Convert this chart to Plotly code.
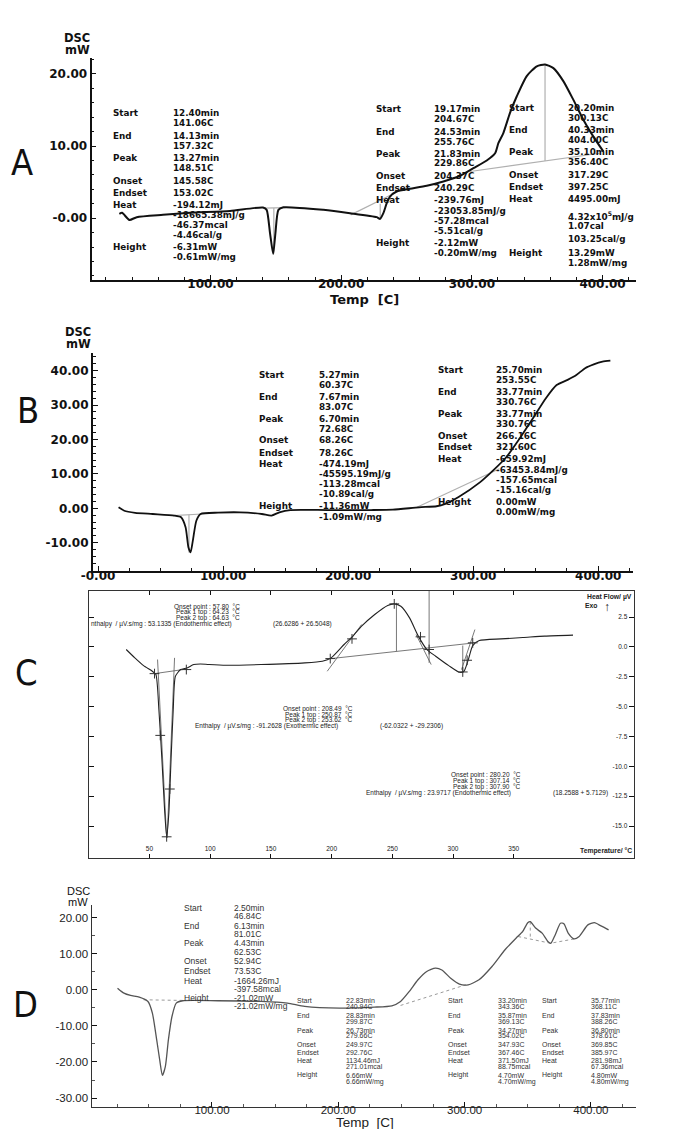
import plotly.graph_objects as go

W, H = 683, 1129

# ---------------- DATA ----------------
# Panel A (temp C, DSC mW)
a_temp = [30.3, 32.4, 38.0, 43.6, 63.7, 84.4, 115.0, 140.2, 143.0, 145.6, 148.0, 149.7, 152.0, 155.8,
          186.4, 206.8, 227.2, 229.8, 232.3, 234.9, 237.4, 242.5, 252.7, 265.5, 278.2, 291.0, 301.2,
          311.4, 317.8, 320.3, 324.1, 329.2, 334.4, 342.0, 349.7, 356.0, 362.4, 370.0, 377.7, 385.3,
          393.0, 400.6]
a_dsc = [0.6, 0.74, -0.24, 0.14, 0.46, 0.74, 1.0, 1.47, 1.15, -2.1, -4.96, -2.1, 1.15, 1.5,
         1.15, 0.69, 0.14, -0.1, 0.69, 2.08, 3.0, 3.7, 4.07, 4.49, 5.08, 5.88, 6.94,
         8.0, 9.0, 10.4, 11.8, 14.6, 16.9, 19.7, 21.05, 21.3, 20.8, 19.0, 16.4, 13.65,
         11.3, 9.25]
a_base_t = [141.0, 157.3, None, 148.5, 148.5, None, 207.3, 240.7, None, 229.9, 229.9, None,
            298.7, 398.0, None, 356.0, 356.0]
a_base_v = [1.4, 1.45, None, 1.4, -4.9, None, 0.46, 3.46, None, 2.0, -0.05, None,
            6.47, 9.0, None, 21.3, 7.93]

# Panel B
b_temp = [16.4, 21.0, 29.7, 43.7, 61.0, 66.4, 70.0, 72.3, 74.0, 75.8, 78.6, 82.0, 96.0, 113.5,
          131.0, 138.7, 145.0, 153.7, 183.4, 218.3, 235.8, 256.7, 270.7, 277.7, 288.0, 305.6,
          316.0, 326.6, 337.0, 347.5, 358.0, 366.7, 375.5, 382.5, 389.5, 396.4, 403.4, 409.7]
b_dsc = [0.3, -0.7, -1.3, -1.65, -2.1, -2.6, -5.5, -11.4, -12.8, -9.4, -3.6, -1.65, -1.26, -1.17,
         -1.65, -2.1, -1.17, -0.5, -0.5, -0.5, -0.4, 0.3, 0.6, 1.3, 3.2, 7.6,
         11.0, 14.9, 20.2, 26.0, 31.9, 35.8, 37.3, 38.7, 40.7, 41.8, 42.6, 42.9]
b_base_t = [60.0, 83.0, None, 72.7, 72.7, None, 255.0, 321.0]
b_base_v = [-2.1, -1.65, None, -1.9, -12.8, None, 0.3, 11.5]

# Panel C
c_temp = [30.9, 38.0, 45.2, 52.4, 55.3, 57.8, 60.3, 62.5, 64.2, 66.0, 67.8, 69.6, 71.4, 75.7, 81.0,
          86.5, 91.9, 99.0, 113.4, 142.0, 178.0, 192.4, 199.6, 210.3, 217.5, 224.7, 235.5, 246.2,
          251.6, 257.0, 264.2, 271.4, 278.5, 285.7, 296.5, 305.5, 309.0, 312.6, 316.2, 321.6,
          339.5, 357.5, 375.4, 398.8]
c_hf = [-0.22, -0.92, -1.57, -2.04, -2.3, -5.26, -9.45, -13.65, -15.9, -13.9, -9.45, -5.26, -2.46, -1.9, -1.76,
        -1.48, -1.43, -1.48, -1.54, -1.48, -1.34, -1.2, -0.92, 0.2, 0.9, 1.73, 2.71, 3.47,
        3.6, 3.4, 2.43, 0.9, -0.22, -0.78, -1.57, -2.13, -2.04, -1.06, 0.11, 0.53,
        0.67, 0.78, 0.9, 0.98]
c_base_t = [54.2, 81.0, None, 56.7, 64.2, None, 70.7, 64.6, None, 197.8, 318.0, None,
            196.4, 224.7, None, 269.6, 282.0, None, 307.0, 318.0, None,
            253.4, 253.4, None, 280.3, 280.3, None, 308.0, 308.0]
c_base_v = [-2.24, -1.85, None, -1.06, -16.0, None, -0.92, -16.0, None, -1.0, 0.34, None,
            -2.04, 1.87, None, 1.03, -1.48, None, -1.9, 1.45, None,
            3.69, -0.36, None, 4.72, -1.34, None, 0.11, -2.18]
c_mark_t = [54.2, 58.9, 66.8, 64.2, 80.4, 198.9, 216.8, 251.6, 273.2, 280.3, 308.0, 311.6, 316.2]
c_mark_v = [-2.24, -7.41, -11.9, -15.9, -1.9, -0.98, 0.67, 3.6, 0.84, -0.22, -2.1, -1.12, 0.34]

# Panel D
d_temp = [25.2, 30.3, 35.5, 42.4, 49.3, 52.8, 56.2, 58.6, 60.7, 63.1, 65.5, 68.3, 71.7, 76.9, 104.5,
          139.0, 159.7, 173.4, 201.0, 228.6, 242.4, 249.3, 256.2, 263.1, 270.0, 276.9, 282.0, 289.0,
          295.9, 302.8, 311.4, 321.7, 332.0, 340.7, 345.9, 350.0, 352.0, 356.2, 361.4, 365.9, 368.3,
          371.7, 375.9, 378.6, 382.0, 386.6, 390.7, 397.6, 402.8, 408.0, 414.0]
d_dsc = [0.46, -0.92, -1.57, -2.03, -3.23, -6.46, -13.8, -19.4, -23.7, -21.2, -13.8, -7.4, -3.7, -3.04, -3.04,
         -3.23, -3.7, -4.6, -5.07, -4.8, -4.43, -3.23, -0.46, 2.77, 5.07, 6.0, 5.5, 3.2,
         1.57, 1.38, 2.77, 6.46, 11.1, 14.3, 16.1, 18.6, 18.9, 17.1, 15.7, 13.4, 12.9,
         15.2, 18.45, 18.3, 15.7, 14.1, 14.8, 18.0, 18.6, 17.7, 16.6]
d_base_t = [45.9, 76.9, None, 249.3, 301.0, None, 342.4, 368.0, 387.0, None, 352.0, 352.0]
d_base_v = [-2.77, -2.95, None, -4.34, 1.38, None, 14.76, 12.9, 14.1, None, 18.9, 14.3]

# Tick labels
a_xticks = [100, 200, 300, 400]
a_xtext = ["100.00", "200.00", "300.00", "400.00"]
a_yticks = [0, 10, 20]
a_ytext = ["-0.00", "10.00", "20.00"]
b_xticks = [0, 100, 200, 300, 400]
b_xtext = ["-0.00", "100.00", "200.00", "300.00", "400.00"]
b_yticks = [-10, 0, 10, 20, 30, 40]
b_ytext = ["-10.00", "0.00", "10.00", "20.00", "30.00", "40.00"]
c_xticks = [50, 100, 150, 200, 250, 300, 350]
c_yticks = [2.5, 0.0, -2.5, -5.0, -7.5, -10.0, -12.5, -15.0]
d_xticks = [100, 200, 300, 400]
d_xtext = ["100.00", "200.00", "300.00", "400.00"]
d_yticks = [-30, -20, -10, 0, 10, 20]
d_ytext = ["-30.00", "-20.00", "-10.00", "0.00", "10.00", "20.00"]

# Annotation texts
a1_labels = ["Start", "End", "Peak", "Onset", "Endset", "Heat", "Height"]
a1_values = ["12.40min", "141.06C", "14.13min", "157.32C", "13.27min", "148.51C", "145.58C", "153.02C",
             "-194.12mJ", "-18665.38mJ/g", "-46.37mcal", "-4.46cal/g", "-6.31mW", "-0.61mW/mg"]
a2_labels = ["Start", "End", "Peak", "Onset", "Endset", "Heat", "Height"]
a2_values = ["19.17min", "204.67C", "24.53min", "255.76C", "21.83min", "229.86C", "204.37C", "240.29C",
             "-239.76mJ", "-23053.85mJ/g", "-57.28mcal", "-5.51cal/g", "-2.12mW", "-0.20mW/mg"]
a3_labels = ["Start", "End", "Peak", "Onset", "Endset", "Heat", "Height"]
a3_values = ["20.20min", "300.13C", "40.33min", "404.00C", "35.10min", "356.40C", "317.29C", "397.25C",
             "4495.00mJ", "4.32x10<sup>5</sup>mJ/g", "1.07cal", "103.25cal/g", "13.29mW", "1.28mW/mg"]
b1_labels = ["Start", "End", "Peak", "Onset", "Endset", "Heat", "Height"]
b1_values = ["5.27min", "60.37C", "7.67min", "83.07C", "6.70min", "72.68C", "68.26C", "78.26C",
             "-474.19mJ", "-45595.19mJ/g", "-113.28mcal", "-10.89cal/g", "-11.36mW", "-1.09mW/mg"]
b2_labels = ["Start", "End", "Peak", "Onset", "Endset", "Heat", "Height"]
b2_values = ["25.70min", "253.55C", "33.77min", "330.76C", "33.77min", "330.76C", "266.16C", "321.60C",
             "-659.92mJ", "-63453.84mJ/g", "-157.65mcal", "-15.16cal/g", "0.00mW", "0.00mW/mg"]
c1_lines = ["Onset point : 57.80  °C", "Peak 1 top : 64.23  °C", "Peak 2 top : 64.63  °C",
            "nthalpy  / µV.s/mg : 53.1335 (Endothermic effect)", "(26.6286 + 26.5048)"]
c2_lines = ["Onset point : 208.49  °C", "Peak 1 top : 250.87  °C", "Peak 2 top : 253.62  °C",
            "Enthalpy  / µV.s/mg : -91.2628 (Exothermic effect)", "(-62.0322 + -29.2306)"]
c3_lines = ["Onset point : 280.20  °C", "Peak 1 top : 307.14  °C", "Peak 2 top : 307.90  °C",
            "Enthalpy  / µV.s/mg : 23.9717 (Endothermic effect)", "(18.2588 + 5.7129)"]
d1_labels = ["Start", "End", "Peak", "Onset", "Endset", "Heat", "Height"]
d1_values = ["2.50min", "46.84C", "6.13min", "81.01C", "4.43min", "62.53C", "52.94C", "73.53C",
             "-1664.26mJ", "-397.58mcal", "-21.02mW", "-21.02mW/mg"]
d2_values = ["22.83min", "240.94C", "28.83min", "299.87C", "26.73min", "279.66C", "249.97C", "292.76C",
             "1134.46mJ", "271.01mcal", "6.66mW", "6.66mW/mg"]
d3_values = ["33.20min", "343.36C", "35.87min", "369.13C", "34.27min", "354.02C", "347.93C", "367.46C",
             "371.50mJ", "88.75mcal", "4.70mW", "4.70mW/mg"]
d4_values = ["35.77min", "368.11C", "37.83min", "388.26C", "36.80min", "378.61C", "369.85C", "385.97C",
             "281.98mJ", "67.36mcal", "4.80mW", "4.80mW/mg"]
panel_letters = ["A", "B", "C", "D"]

# ---------------- LAYOUT HELPERS ----------------
def fx(px):
    return px / W

def fy(py):
    return 1 - py / H

BOLD = "DejaVu Sans"
REG = "Liberation Sans, Arial, sans-serif"
ann = []

def txt(px, py, s, size, family=BOLD, bold=True, color="#111", xanchor="left", yanchor="middle"):
    ann.append(dict(x=fx(px), y=fy(py), xref="paper", yref="paper", text=s, showarrow=False,
                    xanchor=xanchor, yanchor=yanchor, borderpad=0,
                    font=dict(size=size, family=family, color=color,
                              weight="bold" if bold else "normal")))

fig = go.Figure()

def line(xs, ys, xa, ya, color, width, dash="solid", shape="spline"):
    ln = dict(color=color, width=width, dash=dash, shape=shape)
    if shape == "spline":
        ln["smoothing"] = 0.6
    fig.add_trace(go.Scatter(x=xs, y=ys, xaxis=xa, yaxis=ya, mode="lines", line=ln,
                             connectgaps=False, hoverinfo="skip", showlegend=False))

# Panel A
line(a_base_t, a_base_v, "x", "y", "#b0b0b0", 1.2, shape="linear")
line(a_temp, a_dsc, "x", "y", "#111", 2.0)
# Panel B
line(b_base_t, b_base_v, "x2", "y2", "#b0b0b0", 1.2, shape="linear")
line(b_temp, b_dsc, "x2", "y2", "#111", 1.8)
# Panel C
line(c_base_t, c_base_v, "x3", "y3", "#555", 0.8, shape="linear")
line(c_temp, c_hf, "x3", "y3", "#222", 1.1)
fig.add_trace(go.Scatter(x=c_mark_t, y=c_mark_v, xaxis="x3", yaxis="y3", mode="markers",
                         marker=dict(symbol="cross-thin", size=7, line=dict(width=1, color="#333")),
                         hoverinfo="skip", showlegend=False))
# Panel D
line(d_base_t, d_base_v, "x4", "y4", "#9a9a9a", 1.0, dash="dot", shape="linear")
line(d_temp, d_dsc, "x4", "y4", "#555", 1.3)

axis_common = dict(showgrid=False, zeroline=False, automargin=False, showline=True,
                   linecolor="#111", ticks="inside", tickcolor="#111")

bold_tick = dict(size=12, family=BOLD, color="#111", weight="bold")
reg_tick = dict(size=11.5, family=REG, color="#222")

fig.update_layout(
    width=W, height=H, margin=dict(l=0, r=0, t=0, b=0),
    paper_bgcolor="white", plot_bgcolor="rgba(0,0,0,0)", showlegend=False,
    xaxis=dict(axis_common, domain=[fx(91.5), fx(636)], range=[9, 425.6], anchor="y",
               tickvals=a_xticks, ticktext=a_xtext, ticklen=5, linewidth=1.8, tickwidth=1.2,
               ticklabelstandoff=-8,
               tickfont=bold_tick, minor=dict(dtick=20, tick0=0, ticklen=3, ticks="inside", tickcolor="#111")),
    yaxis=dict(axis_common, domain=[fy(280), fy(58)], range=[-8.57, 22.2], anchor="x",
               tickvals=a_yticks, ticktext=a_ytext, ticklen=5, linewidth=1.8, tickwidth=1.2,
               tickfont=bold_tick, minor=dict(dtick=2, tick0=0, ticklen=3, ticks="inside", tickcolor="#111")),
    xaxis2=dict(axis_common, domain=[fx(92.8), fx(633)], range=[-4.2, 427.8], anchor="y2",
                tickvals=b_xticks, ticktext=b_xtext, ticklen=5, linewidth=1.8, tickwidth=1.2,
                ticklabelstandoff=-7,
                tickfont=bold_tick, minor=dict(dtick=25, tick0=0, ticklen=3, ticks="inside", tickcolor="#111")),
    yaxis2=dict(axis_common, domain=[fy(571), fy(353)], range=[-18.2, 45.1], anchor="x2",
                tickvals=b_yticks, ticktext=b_ytext, ticklen=5, linewidth=1.8, tickwidth=1.2,
                tickfont=bold_tick, minor=dict(dtick=2, tick0=0, ticklen=3, ticks="inside", tickcolor="#111")),
    xaxis3=dict(axis_common, domain=[fx(89.3), fx(634)], range=[0.5, 449], anchor="y3",
                tickvals=c_xticks, ticktext=[str(v) for v in c_xticks], ticklen=4, linewidth=1,
                linecolor="#333", mirror="ticks", ticklabelposition="inside",
                tickfont=dict(size=6.5, family=REG, color="#222")),
    yaxis3=dict(axis_common, domain=[fy(857.7), fy(590.5)], range=[-17.65, 4.72], anchor="x3",
                side="right", tickvals=c_yticks, ticktext=["%.1f" % v for v in c_yticks],
                ticklen=5, linewidth=1, linecolor="#333", mirror="ticks", ticklabelposition="inside",
                tickfont=dict(size=6.5, family=REG, color="#222")),
    xaxis4=dict(axis_common, domain=[fx(91.5), fx(636)], range=[4.6, 435.7], anchor="y4",
                tickvals=d_xticks, ticktext=d_xtext, ticklen=5, linewidth=1.2, linecolor="#333",
                ticklabelstandoff=-8,
                tickfont=reg_tick, minor=dict(dtick=25, tick0=0, ticklen=3, ticks="inside", tickcolor="#555")),
    yaxis4=dict(axis_common, domain=[fy(1106.7), fy(905)], range=[-32.4, 23.5], anchor="x4",
                tickvals=d_yticks, ticktext=d_ytext, ticklen=5, linewidth=1.2, linecolor="#333",
                tickfont=reg_tick, minor=dict(dtick=5, tick0=0, ticklen=3, ticks="inside", tickcolor="#555")),
)

# ---- axis titles and panel letters
for (cx, y1, y2, bold) in [(77, 38, 49.5, True), (78, 332, 343.5, True), (78, 890.5, 901.5, False)]:
    fam = BOLD if bold else REG
    txt(cx, y1, "DSC", 11.5 if bold else 11, fam, bold, xanchor="center")
    txt(cx, y2, "mW", 11.5 if bold else 11, fam, bold, xanchor="center")
txt(364, 299, "Temp  [C]", 13, BOLD, True, xanchor="center")
txt(364.5, 1122, "Temp  [C]", 13.5, REG, False, color="#222", xanchor="center")

LETTER_FONT = "Liberation Sans Narrow, DejaVu Sans Condensed, Liberation Sans"
for s, (px, py) in zip(panel_letters, [(22, 163), (28, 410), (26, 672), (25, 1004)]):
    txt(px, py, s, 36, LETTER_FONT, False, color="#111", xanchor="center")

# ---- Panel A / B blocks
std_label_rows = [0, 2, 4, 6, 7, 8, 12]   # value index where each label sits

def block(labels, values, lx, vx, vys, size, family, bold, color):
    for lab, idx in zip(labels, std_label_rows):
        txt(lx, vys[idx], lab, size, family, bold, color)
    for v, yy in zip(values, vys):
        txt(vx, yy, v, size, family, bold, color)

a1_y = [113.3, 123.3, 136, 146, 158, 167.7, 180.7, 192.7, 204.7, 215, 225, 235.3, 247.3, 257.3]
a2_y = [109, 119, 131.7, 141.7, 153.7, 163.3, 176, 188.3, 200, 210.7, 220.7, 230.7, 242.7, 253.3]
a3_y = [107.7, 117.7, 130, 140, 152.3, 162, 174.7, 186.7, 199, 215.7, 225.7, 239.3, 253, 263.3]
block(a1_labels, a1_values, 112.4, 172, a1_y, 8.8, BOLD, True, "#111")
block(a2_labels, a2_values, 374.6, 433.4, a2_y, 8.8, BOLD, True, "#111")
block(a3_labels, a3_values, 507.7, 567, a3_y, 8.8, BOLD, True, "#111")

b1_y = [375, 385, 396.7, 406.7, 418.7, 428.7, 440, 452.7, 464.3, 474.3, 484, 494, 506, 516.7]
b2_y = [370, 380, 391.7, 401.7, 414, 424, 436, 447.3, 459, 470, 480, 490, 501.7, 511.7]
block(b1_labels, b1_values, 258.3, 318.3, b1_y, 8.8, BOLD, True, "#111")
block(b2_labels, b2_values, 436.7, 495, b2_y, 8.8, BOLD, True, "#111")

# ---- Panel C texts
c_font = 6.5
for lines_, xs, ys in [
    (c1_lines, [173, 175, 175, 89.5, 272], [606.7, 612.3, 618, 624, 624]),
    (c2_lines, [282, 284, 284, 193.8, 379], [709, 714.7, 720.3, 726, 726]),
    (c3_lines, [450, 451.7, 451.7, 365, 552], [775, 780.7, 786.7, 792.7, 792.7]),
]:
    for s, xx, yy in zip(lines_, xs, ys):
        txt(xx, yy, s, c_font, REG, False, "#222")
txt(633, 597, "Heat Flow/ µV", 6.8, REG, True, "#222", xanchor="right")
txt(584, 605.7, "Exo", 6.8, REG, True, "#222")
txt(606.5, 607, "↑", 12, REG, False, "#222", xanchor="center")
txt(633, 851, "Temperature/ °C", 6.8, REG, True, "#222", xanchor="right")

# ---- Panel D texts
d_rows = [0, 2, 4, 6, 7, 8, 10]
d1_y = [907.7, 916, 925.7, 934, 943.3, 951.7, 961, 971, 980.7, 988.7, 997.7, 1006]
dn_y = [1000.7, 1006.7, 1015, 1021, 1030, 1035.7, 1044.3, 1052.3, 1060.7, 1066.7, 1075, 1081.7]

def dblock(values, lx, vx, vys, size):
    for lab, idx in zip(d1_labels, d_rows):
        txt(lx, vys[idx], lab, size, REG, False, "#333")
    for v, yy in zip(values, vys):
        txt(vx, yy, v, size, REG, False, "#333")

dblock(d1_values, 183, 233, d1_y, 8.5)
dblock(d2_values, 296, 345.4, dn_y, 7.0)
dblock(d3_values, 447.3, 496.5, dn_y, 7.0)
dblock(d4_values, 541.4, 590, dn_y, 7.0)

fig.update_layout(annotations=ann)
fig.write_html("out.html", config={"displayModeBar": False},
               post_script="document.body.style.margin='0px';document.body.style.padding='0px';")
